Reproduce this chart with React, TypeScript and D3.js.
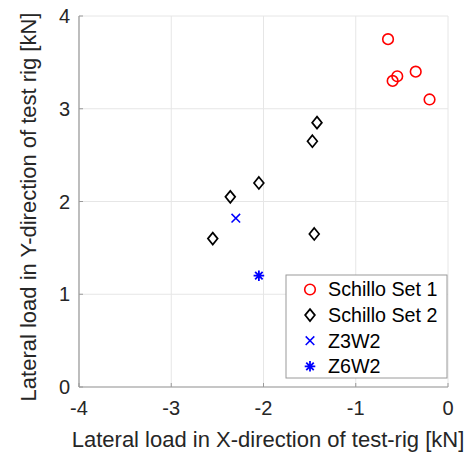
import React from "react";
import * as d3 from "d3";

const set1X = [-0.65, -0.6, -0.55, -0.35, -0.2];
const set1Y = [3.75, 3.3, 3.35, 3.4, 3.1];
const set2X = [-1.42, -1.47, -2.05, -2.36, -2.55, -1.45];
const set2Y = [2.85, 2.65, 2.2, 2.05, 1.6, 1.65];
const z3X = [-2.3];
const z3Y = [1.82];
const z6X = [-2.05];
const z6Y = [1.2];
const xTicks = [-4, -3, -2, -1, 0];
const yTicks = [0, 1, 2, 3, 4];
const legendLabels = ["Schillo Set 1", "Schillo Set 2", "Z3W2", "Z6W2"];

const W = 470, H = 452;
const left = 79, right = 448, top = 16, bottom = 387;
const FONT = "Liberation Sans, Arial, sans-serif";
const TICK_FS = 20;
const LABEL_FS = 22;
const LEG_FS = 19.7;

function Marker({ kind, x, y }: { kind: string; x: number; y: number }) {
  if (kind === "circle")
    return <circle cx={x} cy={y} r={5.3} fill="none" stroke="#ff0000" strokeWidth={1.6} />;
  if (kind === "diamond") {
    const p = d3.path();
    p.moveTo(x, y - 6); p.lineTo(x + 4.9, y); p.lineTo(x, y + 6); p.lineTo(x - 4.9, y); p.closePath();
    return <path d={p.toString()} fill="none" stroke="#000" strokeWidth={1.7} />;
  }
  if (kind === "x") {
    const s = 4.3;
    return <path d={`M${x - s},${y - s}L${x + s},${y + s}M${x - s},${y + s}L${x + s},${y - s}`} stroke="#0000ff" strokeWidth={1.5} />;
  }
  const s = 5.3;
  const segs = [0, 45, 90, 135].map((a) => {
    const r = (a * Math.PI) / 180;
    const dx = Math.cos(r) * s, dy = Math.sin(r) * s;
    return `M${x - dx},${y - dy}L${x + dx},${y + dy}`;
  }).join("");
  return <path d={segs} stroke="#0000ff" strokeWidth={1.8} />;
}

export default function App() {
  const xs = d3.scaleLinear().domain([-4, 0]).range([left, right]);
  const ys = d3.scaleLinear().domain([0, 4]).range([bottom, top]);
  const series = [
    { kind: "circle", xs: set1X, ys: set1Y },
    { kind: "diamond", xs: set2X, ys: set2Y },
    { kind: "x", xs: z3X, ys: z3Y },
    { kind: "asterisk", xs: z6X, ys: z6Y },
  ];
  const lx = 286, ly = 275, lw = 161, lh = 103;
  return (
    <svg width={W} height={H} style={{ position: "absolute", left: 0, top: 0, background: "#fff" }} fontFamily={FONT}>
      <rect width={W} height={H} fill="#fff" />
      {xTicks.map((t) => (
        <line key={"gx" + t} x1={xs(t)} x2={xs(t)} y1={top} y2={bottom} stroke="#e6e6e6" strokeWidth={1} />
      ))}
      {yTicks.map((t) => (
        <line key={"gy" + t} x1={left} x2={right} y1={ys(t)} y2={ys(t)} stroke="#e6e6e6" strokeWidth={1} />
      ))}
      <line x1={left} x2={left} y1={top} y2={bottom} stroke="#9a9a9a" strokeWidth={1.2} />
      <line x1={left} x2={right} y1={bottom} y2={bottom} stroke="#9a9a9a" strokeWidth={1.2} />
      {xTicks.map((t) => (
        <line key={"tx" + t} x1={xs(t)} x2={xs(t)} y1={bottom} y2={bottom - 4} stroke="#9a9a9a" />
      ))}
      {yTicks.map((t) => (
        <line key={"ty" + t} x1={left} x2={left + 4} y1={ys(t)} y2={ys(t)} stroke="#9a9a9a" />
      ))}
      {xTicks.map((t) => (
        <text key={"lx" + t} x={xs(t)} y={415} textAnchor="middle" fontSize={TICK_FS} fill="#262626">
          {t < 0 ? "-" + Math.abs(t) : String(t)}
        </text>
      ))}
      {yTicks.map((t) => (
        <text key={"ly" + t} x={70} y={ys(t)} dy="0.35em" textAnchor="end" fontSize={TICK_FS} fill="#262626">
          {t}
        </text>
      ))}
      <text x={268} y={447} textAnchor="middle" fontSize={LABEL_FS} fill="#262626">
        Lateral load in X-direction of test-rig [kN]
      </text>
      <text transform={`translate(36,207) rotate(-90)`} textAnchor="middle" fontSize={LABEL_FS} fill="#262626">
        Lateral load in Y-direction of test rig [kN]
      </text>
      {series.map((s) =>
        s.xs.map((v, i) => <Marker key={s.kind + i} kind={s.kind} x={xs(v)} y={ys(s.ys[i])} />)
      )}
      <rect x={lx} y={ly} width={lw} height={lh} fill="#fff" stroke="#9a9a9a" strokeWidth={1} />
      {legendLabels.map((lab, i) => {
        const cy = 289.5 + i * 25.6;
        return (
          <g key={lab}>
            <Marker kind={series[i].kind} x={310} y={cy} />
            <text x={328} y={cy} dy="0.35em" fontSize={LEG_FS} fill="#000">{lab}</text>
          </g>
        );
      })}
    </svg>
  );
}
